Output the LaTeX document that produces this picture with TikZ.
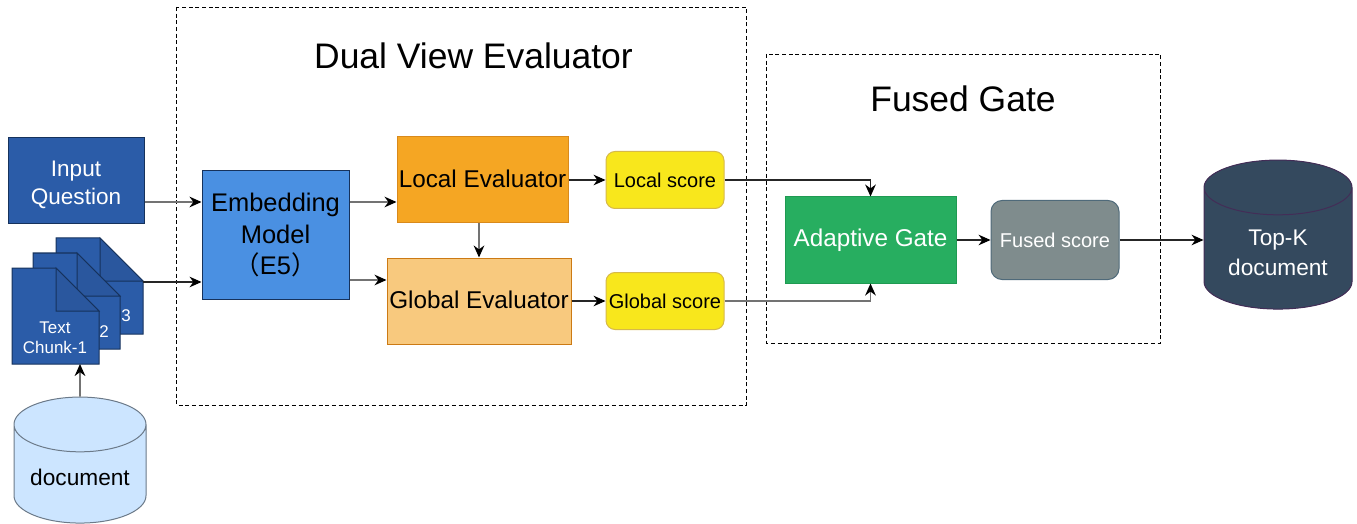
\documentclass[tikz,border=0pt]{standalone}
\usepackage{fontspec}
\setmainfont{Liberation Sans}
\newfontfamily\cjkfont{Noto Sans CJK SC}
\usetikzlibrary{arrows.meta,shapes.geometric}
\definecolor{inputblue}{HTML}{2B5CA8}
\definecolor{inputedge}{HTML}{16325C}
\definecolor{foldblue}{HTML}{2A579E}
\definecolor{embedblue}{HTML}{4A90E2}
\definecolor{localorange}{HTML}{F5A623}
\definecolor{localedge}{HTML}{D98A1C}
\definecolor{globalorange}{HTML}{F8C97E}
\definecolor{globaledge}{HTML}{CC7A14}
\definecolor{scoreyellow}{HTML}{F8E71C}
\definecolor{scoreedge}{HTML}{D6B94A}
\definecolor{gategreen}{HTML}{27AE60}
\definecolor{gateedge}{HTML}{1F9A52}
\definecolor{fusedgrey}{HTML}{7F8C8D}
\definecolor{fusededge}{HTML}{4F6A7A}
\definecolor{topkblue}{HTML}{34495E}
\definecolor{topkedge}{HTML}{432D57}
\definecolor{docblue}{HTML}{CCE5FF}
\definecolor{docedge}{HTML}{6C7A89}
\begin{document}
\begin{tikzpicture}[x=.75pt,y=-.75pt]
	\newcommand{\pxu}{.75pt} % one pixel of the reference
	\newcommand{\chunkpage}[2]{
		\filldraw[chunkpage] (#1,#2) -- ++(44,0) -- ++(43,43) -- ++(0,53) -- ++(-87,0) -- cycle;
		\filldraw[chunkfold] (#1+44,#2) -- ++(43,43) -- ++(-43,0) -- cycle;
	}

	% set the styles of the boxes
	\tikzset{
		box/.style={
			draw,
			line width=.75pt,
			align=center,
			inner sep=0pt,
			font=\fontsize{18.2}{24}\selectfont
			},
		scorebox/.style={
			box,
			fill=scoreyellow,
			draw=scoreedge,
			rounded corners=9*\pxu,
			minimum width=118*\pxu,
			minimum height=57*\pxu,
			font=\fontsize{15}{18}\selectfont
			},
		frame/.style={
			draw,
			densely dashed,
			line width=.6pt
			},
		chunkpage/.style={
			fill=inputblue,
			draw=inputedge,
			line width=.75pt
			},
		chunkfold/.style={
			fill=foldblue,
			draw=inputedge,
			line width=.75pt
			},
		cyl/.style={
			draw,
			cylinder,
			shape border rotate=90,
			cylinder uses custom fill,
			aspect=.55,
			inner sep=0pt,
			line width=.75pt,
			align=center,
			font=\fontsize{17}{22.5}\selectfont
			},
		cyltext/.style={
			align=center,
			font=\fontsize{17}{22.5}\selectfont
			},
		link/.style={
			-{Stealth[length=9pt,width=8pt,color=black]},
			line width=.8pt,
			draw=black!85
			},
		greylink/.style={
			link,
			line width=1.2pt,
			draw=black!55
			}
	}

	\useasboundingbox (0,0) rectangle (1357,524);

	% dashed frames
	\draw[frame] (176.5,7) rectangle (746.5,405);
	\draw[frame] (766.5,54) rectangle (1160.5,343);
	\node[font=\fontsize{26.6}{30}\selectfont] (dualtitle) at (473.5,56) {Dual View Evaluator};
	\node[font=\fontsize{26.6}{30}\selectfont] (fusedtitle) at (963,99) {Fused Gate};

	% left column
	\node[box, fill=inputblue, draw=inputedge, minimum width=136*\pxu, minimum height=86*\pxu] (input) at (76,181) {};
	\node[text=white, align=center, font=\fontsize{16.9}{21}\selectfont] (inputtext) at (76,184.5) {Input\\Question};

	% chunks
	\chunkpage{56}{238}
	\node[text=white, font=\fontsize{12.7}{15}\selectfont] (chunkthreetext) at (126,316) {3};
	\chunkpage{33}{253}
	\node[text=white, font=\fontsize{12.7}{15}\selectfont] (chunktwotext) at (104,332) {2};
	\chunkpage{12}{268}
	\node[text=white, align=center, font=\fontsize{12.7}{15}\selectfont] (chunkonetext) at (55,338) {Text\\Chunk-1};
	\coordinate (chunkthree) at (143,282);
	\coordinate (chunkone) at (80,364);

	\node[cyl, fill=docblue, draw=docedge, cylinder body fill=docblue, cylinder end fill=docblue, minimum width=132*\pxu, minimum height=126*\pxu] (document) at (80,474) {\phantom{document}};
	\node[cyltext] (documenttext) at (80,477) {document};

	% evaluator
	\node[box, fill=embedblue, draw=inputedge, minimum width=147*\pxu, minimum height=129*\pxu, font=\fontsize{19.1}{23.5}\selectfont] (embed) at (275.5,235) {Embedding\\Model\\{\cjkfont （}E5{\cjkfont ）}};
	\node[box, fill=localorange, draw=localedge, minimum width=171*\pxu, minimum height=86*\pxu] (local) at (482.5,180) {};
	\node[font=\fontsize{18.2}{24}\selectfont] (localtext) at (482.5,179) {Local Evaluator};
	\node[box, fill=globalorange, draw=globaledge, minimum width=184*\pxu, minimum height=86*\pxu] (global) at (479,301) {};
	\node[font=\fontsize{18.2}{24}\selectfont] (globaltext) at (479,300) {Global Evaluator};
	\node[scorebox] (localscore) at (665,180) {Local score};
	\node[scorebox] (globalscore) at (665,301) {Global score};

	% gate
	\node[box, fill=gategreen, draw=gateedge, text=white, minimum width=171*\pxu, minimum height=86*\pxu] (gate) at (870.5,240) {Adaptive Gate};
	\node[box, fill=fusedgrey, draw=fusededge, text=white, rounded corners=11*\pxu, minimum width=128*\pxu, minimum height=79*\pxu, font=\fontsize{15}{18}\selectfont] (fused) at (1055,240) {Fused score};

	\node[cyl, fill=topkblue, draw=topkedge, cylinder body fill=topkblue, cylinder end fill=topkblue, minimum width=148*\pxu, minimum height=149*\pxu] (topk) at (1278,248.5) {\phantom{document}};
	\node[cyltext, text=white] (topktext) at (1278,253) {Top-K\\document};

	% arrows
	\draw[greylink] (input.east |- 0,202) -- (embed.west |- 0,202);
	\draw[link] (chunkthree) -- (embed.west |- chunkthree);
	\draw[greylink] (document.north) -- (chunkone);
	\draw[greylink] (embed.east |- 0,202) -- (local.west |- 0,202);
	\draw[greylink] (embed.east |- 0,280) -- (global.west |- 0,280);
	\draw[greylink] (local.south -| global.north) -- (global.north);
	\draw[link] (local.east) -- (localscore.west);
	\draw[link] (global.east) -- (globalscore.west);
	\draw[link] (localscore.east) -| (gate.north);
	\draw[greylink] (globalscore.east) -| (gate.south);
	\draw[link] (gate.east) -- (fused.west);
	\draw[link] (fused.east) -- (topk.west |- fused.east);
\end{tikzpicture}
\end{document}
